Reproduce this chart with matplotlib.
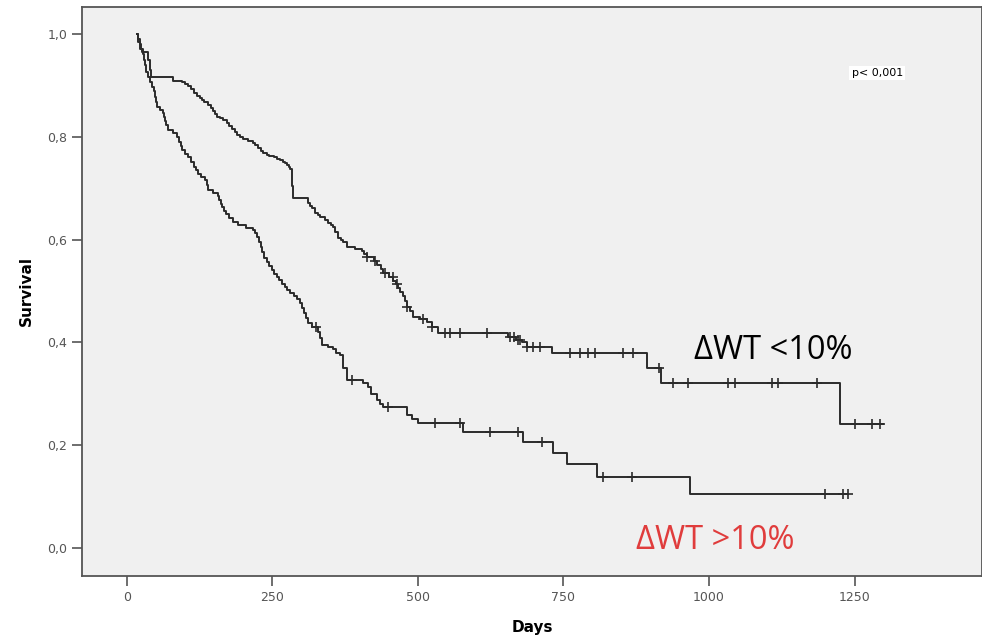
import numpy as np
import matplotlib.pyplot as plt

# Kaplan-Meier steps: (time of step, survival after step)
t_lt10 = [17, 20, 23, 26, 36, 40, 42, 80, 95, 100, 105, 110, 115, 120, 125, 129, 133,
          139, 144, 148, 152, 155, 160, 165, 172, 176, 180, 185, 189, 195, 200, 208,
          216, 221, 225, 230, 234, 240, 245, 252, 258, 263, 268, 272, 275, 278, 280,
          283, 284, 286, 311, 315, 318, 323, 328, 332, 340, 345, 350, 354, 358, 363,
          368, 372, 378, 392, 404, 408, 412, 424, 430, 436, 440, 450, 458, 462, 466,
          470, 474, 478, 481, 486, 491, 503, 515, 524, 534, 655, 668, 678, 687, 730,
          893, 918, 1225, 1299]
s_lt10 = [1.0, 0.985, 0.97, 0.965, 0.95, 0.93, 0.916, 0.909, 0.906, 0.903, 0.898,
          0.893, 0.885, 0.88, 0.875, 0.871, 0.868, 0.862, 0.856, 0.85, 0.845, 0.839,
          0.836, 0.833, 0.827, 0.821, 0.815, 0.81, 0.804, 0.8, 0.796, 0.792, 0.788,
          0.783, 0.778, 0.773, 0.768, 0.765, 0.762, 0.76, 0.757, 0.754, 0.751, 0.748,
          0.745, 0.741, 0.737, 0.72, 0.705, 0.681, 0.671, 0.666, 0.661, 0.652, 0.648,
          0.644, 0.638, 0.632, 0.628, 0.624, 0.614, 0.603, 0.599, 0.595, 0.586, 0.582,
          0.578, 0.572, 0.566, 0.558, 0.55, 0.542, 0.535, 0.528, 0.52, 0.513, 0.506,
          0.498, 0.49, 0.48, 0.469, 0.46, 0.45, 0.445, 0.44, 0.43, 0.418, 0.41, 0.405,
          0.4, 0.39, 0.379, 0.35, 0.321, 0.241, 0.241]
cens_lt10 = [412, 426, 443, 457, 464, 481, 509, 524, 546, 555, 572, 619, 658, 665,
             672, 675, 687, 698, 710, 761, 778, 792, 804, 852, 870, 914, 938, 964,
             1033, 1045, 1108, 1119, 1186, 1251, 1280, 1294]

t_gt10 = [17, 20, 22, 25, 27, 30, 31, 33, 36, 40, 43, 46, 48, 50, 52, 57, 62, 64, 66,
          68, 70, 80, 86, 90, 93, 95, 100, 105, 110, 115, 118, 122, 128, 134, 137, 140,
          148, 156, 158, 161, 164, 167, 171, 175, 183, 191, 205, 216, 220, 224, 227,
          230, 233, 236, 240, 245, 249, 253, 258, 262, 266, 271, 276, 281, 287, 292,
          298, 301, 304, 308, 312, 318, 328, 332, 336, 346, 355, 360, 366, 372, 378,
          405, 414, 420, 430, 435, 440, 481, 490, 500, 577, 680, 732, 756, 808, 967,
          1239]
s_gt10 = [1.0, 0.99, 0.98, 0.97, 0.96, 0.95, 0.94, 0.925, 0.916, 0.906, 0.897, 0.888,
          0.878, 0.868, 0.858, 0.852, 0.846, 0.838, 0.83, 0.822, 0.813, 0.808, 0.8,
          0.79, 0.782, 0.774, 0.767, 0.76, 0.75, 0.741, 0.735, 0.728, 0.722, 0.716,
          0.706, 0.696, 0.69, 0.684, 0.677, 0.67, 0.663, 0.656, 0.649, 0.642, 0.635,
          0.628, 0.623, 0.619, 0.612, 0.605, 0.595, 0.585, 0.575, 0.565, 0.556, 0.548,
          0.541, 0.533, 0.527, 0.521, 0.514, 0.508, 0.502, 0.496, 0.49, 0.484, 0.477,
          0.467, 0.458, 0.448, 0.438, 0.43, 0.42, 0.408, 0.395, 0.391, 0.387, 0.38,
          0.375, 0.35, 0.327, 0.32, 0.313, 0.3, 0.288, 0.281, 0.274, 0.259, 0.251,
          0.243, 0.226, 0.206, 0.185, 0.163, 0.138, 0.105, 0.105]
cens_gt10 = [325, 387, 448, 529, 572, 624, 672, 713, 818, 868, 1199, 1230, 1239]

yticks = [0.0, 0.2, 0.4, 0.6, 0.8, 1.0]
xticks = [0, 250, 500, 750, 1000, 1250]

line_col = '#2b2b2b'

fig = plt.figure(figsize=(9.82, 6.38), dpi=100)
ax = fig.add_axes([0.0835, 0.0972, 0.9165, 0.892])
ax.set_facecolor('#f0f0f0')


def draw_curve(t, s, cens):
    t = np.array(t)
    s = np.array(s)
    ax.plot(t, s, drawstyle='steps-post', color=line_col, lw=1.4)
    idx = np.searchsorted(t, cens, side='right') - 1
    ax.plot(cens, s[idx], linestyle='none', marker='+', markersize=7,
            markeredgewidth=1.2, color=line_col)


draw_curve(t_lt10, s_lt10, cens_lt10)
draw_curve(t_gt10, s_gt10, cens_gt10)

ax.set_xlim(-77, 1469)
ax.set_ylim(-0.0545, 1.0525)
ax.set_xticks(xticks)
ax.set_xticklabels([str(x) for x in xticks])
ax.set_yticks(yticks)
ax.set_yticklabels([('%.1f' % y).replace('.', ',') for y in yticks])
ax.tick_params(direction='out', length=7, width=1.2, color='#555555',
               labelsize=9, labelcolor='#555555')
for side in ['left', 'bottom', 'top', 'right']:
    ax.spines[side].set_color('#555555')
    ax.spines[side].set_linewidth(1.3)

ax.set_xlabel('Days', fontsize=11, fontweight='bold', labelpad=12)
ax.set_ylabel('Survival', fontsize=11, fontweight='bold', labelpad=10)

ax.text(1289, 0.924, 'p< 0,001', fontsize=8, ha='center', va='center',
        bbox=dict(facecolor='white', edgecolor='none', pad=1.5))
ax.text(1110, 0.385, '\u0394WT <10%', fontsize=23.5, family='Open Sans',
        ha='center', va='center', color='black')
ax.text(1010, 0.014, '\u0394WT >10%', fontsize=23.5, family='Open Sans',
        ha='center', va='center', color='#e03c3c')

fig.savefig('out.png', dpi=100)
